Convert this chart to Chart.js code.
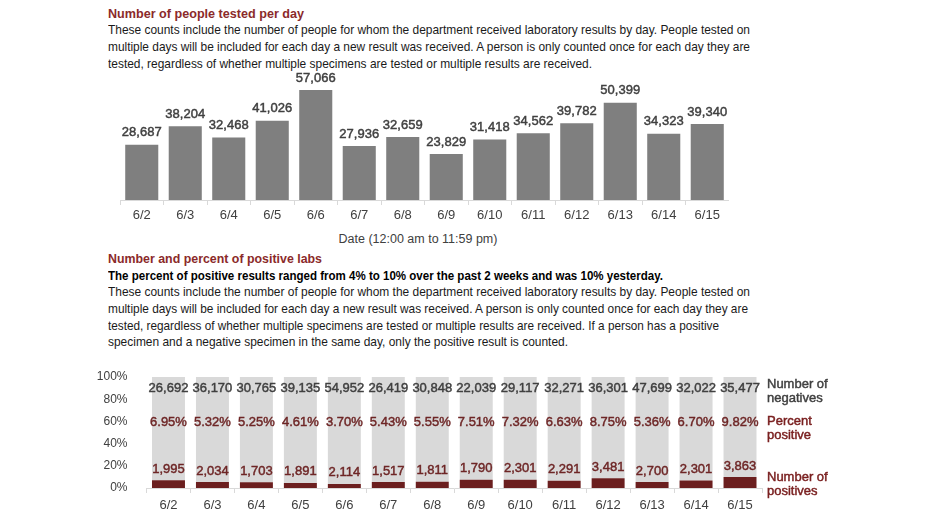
<!DOCTYPE html>
<html><head><meta charset="utf-8">
<script src="https://cdn.jsdelivr.net/npm/chart.js@4.4.1/dist/chart.umd.min.js"></script>
<style>
html,body{margin:0;padding:0;background:#fff;}
body{width:932px;height:524px;position:relative;overflow:hidden;font-family:"Liberation Sans",Arial,sans-serif;}
.t{position:absolute;left:108px;white-space:nowrap;color:#1a1a1a;font-size:13px;line-height:17px;transform-origin:0 50%;}
.h{color:#8b2a2a;font-weight:bold;font-size:13.5px;}
.b{font-weight:bold;color:#000;}
#c1wrap{position:absolute;left:120px;top:70px;width:609px;height:152px;}
#c2wrap{position:absolute;left:90px;top:365px;width:750px;height:145px;}
#xt{position:absolute;left:0;width:836px;text-align:center;top:232px;font-size:12.5px;color:#404040;}
</style></head><body>
<div class="t h" data-r="304" style="top:5px">Number of people tested per day</div>
<div class="t" data-r="750" style="top:21px">These counts include the number of people for whom the department received laboratory results by day. People tested on</div>
<div class="t" data-r="750" style="top:38px">multiple days will be included for each day a new result was received. A person is only counted once for each day they are</div>
<div class="t" data-r="592" style="top:55px">tested, regardless of whether multiple specimens are tested or multiple results are received.</div>
<div id="c1wrap"><canvas id="c1"></canvas></div>
<div id="xt">Date (12:00 am to 11:59 pm)</div>
<div class="t h" data-r="322" style="top:250px">Number and percent of positive labs</div>
<div class="t b" data-r="663" style="top:267px">The percent of positive results ranged from 4% to 10% over the past 2 weeks and was 10% yesterday.</div>
<div class="t" data-r="750" style="top:283px">These counts include the number of people for whom the department received laboratory results by day. People tested on</div>
<div class="t" data-r="748" style="top:300px">multiple days will be included for each day a new result was received. A person is only counted once for each day they are</div>
<div class="t" data-r="719" style="top:317px">tested, regardless of whether multiple specimens are tested or multiple results are received. If a person has a positive</div>
<div class="t" data-r="568" style="top:333px">specimen and a negative specimen in the same day, only the positive result is counted.</div>
<div id="c2wrap"><canvas id="c2"></canvas></div>
<script>
const dates = ["6/2","6/3","6/4","6/5","6/6","6/7","6/8","6/9","6/10","6/11","6/12","6/13","6/14","6/15"];
const tested = [28687,38204,32468,41026,57066,27936,32659,23829,31418,34562,39782,50399,34323,39340];
const negatives = [26692,36170,30765,39135,54952,26419,30848,22039,29117,32271,36301,47699,32022,35477];
const positives = [1995,2034,1703,1891,2114,1517,1811,1790,2301,2291,3481,2700,2301,3863];
const pctPositive = [6.95,5.32,5.25,4.61,3.70,5.43,5.55,7.51,7.32,6.63,8.75,5.36,6.70,9.82];
const yTicks = ["0%","20%","40%","60%","80%","100%"];

// fit each text line horizontally to the width it has in the reference
document.querySelectorAll('.t').forEach(el=>{
  const w = el.getBoundingClientRect().width;
  const target = (+el.dataset.r) - 108;
  el.style.transform = 'scaleX(' + (target / w) + ')';
});

const FONT = '"Liberation Sans",Arial,sans-serif';
const fmt = n => n.toLocaleString('en-US');
function medText(ctx, s, x, y){
  ctx.strokeStyle = ctx.fillStyle; ctx.lineWidth = 0.45;
  ctx.fillText(s, x, y); ctx.strokeText(s, x, y);
}

const topLabels = {
  id:'topLabels',
  afterDatasetsDraw(chart){
    const ctx = chart.ctx, meta = chart.getDatasetMeta(0);
    ctx.save();
    ctx.font = '13px ' + FONT;
    ctx.fillStyle = '#404040';
    ctx.textAlign = 'center'; ctx.textBaseline = 'middle';
    meta.data.forEach((bar,i)=>{ medText(ctx, fmt(tested[i]), bar.x, bar.y - 12); });
    ctx.restore();
  }
};

new Chart(document.getElementById('c1'), {
  type:'bar',
  data:{labels:dates, datasets:[{data:tested, backgroundColor:'#7f7f7f', categoryPercentage:1, barPercentage:0.76}]},
  options:{
    responsive:true, maintainAspectRatio:false, animation:false,
    layout:{padding:0},
    plugins:{legend:{display:false}, tooltip:{enabled:false}},
    scales:{
      x:{grid:{offset:true, drawOnChartArea:false, drawTicks:true, tickLength:5, color:'#d9d9d9'},
         border:{display:true,color:'#d9d9d9'},
         ticks:{padding:3, color:'#404040', font:{family:FONT,size:13}},
         afterFit(s){ s.height = 22; }},
      y:{display:false, min:0, max:67400}
    }
  },
  plugins:[topLabels]
});

const botLabels = {
  id:'botLabels',
  afterDatasetsDraw(chart){
    const ctx = chart.ctx, y = chart.scales.y, meta = chart.getDatasetMeta(0);
    const ca = chart.chartArea;
    ctx.save();
    ctx.textAlign='center'; ctx.textBaseline='middle';
    ctx.font = '13px ' + FONT;
    meta.data.forEach((bar,i)=>{
      ctx.fillStyle = '#404040';
      medText(ctx, fmt(negatives[i]), bar.x, y.getPixelForValue(90));
      ctx.fillStyle = '#6e2626';
      medText(ctx, pctPositive[i].toFixed(2)+'%', bar.x, y.getPixelForValue(59.5));
      medText(ctx, fmt(positives[i]), bar.x, bar.y - 11);
    });
    ctx.textAlign='left';
    ctx.font = '13px ' + FONT;
    const lx = ca.right + 5;
    ctx.fillStyle = '#404040';
    medText(ctx, 'Number of', lx, y.getPixelForValue(93.5));
    medText(ctx, 'negatives', lx, y.getPixelForValue(80.9));
    ctx.fillStyle = '#7a2020';
    medText(ctx, 'Percent', lx, y.getPixelForValue(60.3));
    medText(ctx, 'positive', lx, y.getPixelForValue(47.7));
    medText(ctx, 'Number of', lx, y.getPixelForValue(9.9));
    medText(ctx, 'positives', lx, y.getPixelForValue(-2.7));
    ctx.restore();
  }
};

new Chart(document.getElementById('c2'), {
  type:'bar',
  data:{labels:dates, datasets:[
    {data:pctPositive, backgroundColor:'#6b1f1f', categoryPercentage:1, barPercentage:0.75},
    {data:pctPositive.map(p=>100-p), backgroundColor:'#d9d9d9', categoryPercentage:1, barPercentage:0.75}
  ]},
  options:{
    responsive:true, maintainAspectRatio:false, animation:false,
    layout:{padding:{top:12,right:78,left:0,bottom:0}},
    plugins:{legend:{display:false}, tooltip:{enabled:false}},
    scales:{
      x:{stacked:true,
         grid:{offset:true, drawOnChartArea:false, drawTicks:true, tickLength:5, color:'#d9d9d9'},
         border:{display:true,color:'#d9d9d9'},
         ticks:{padding:5, color:'#404040', font:{family:FONT,size:13}},
         afterFit(s){ s.height = 22; }},
      y:{stacked:true, min:0, max:100,
         grid:{display:false}, border:{display:false},
         ticks:{stepSize:20, padding:11, color:'#404040', font:{family:FONT,size:12},
                callback:(v,i)=>yTicks[i]},
         afterFit(s){ s.width = 56.5; s.paddingTop = 0; s.paddingBottom = 0; }}
    }
  },
  plugins:[botLabels]
});
</script>
</body></html>
